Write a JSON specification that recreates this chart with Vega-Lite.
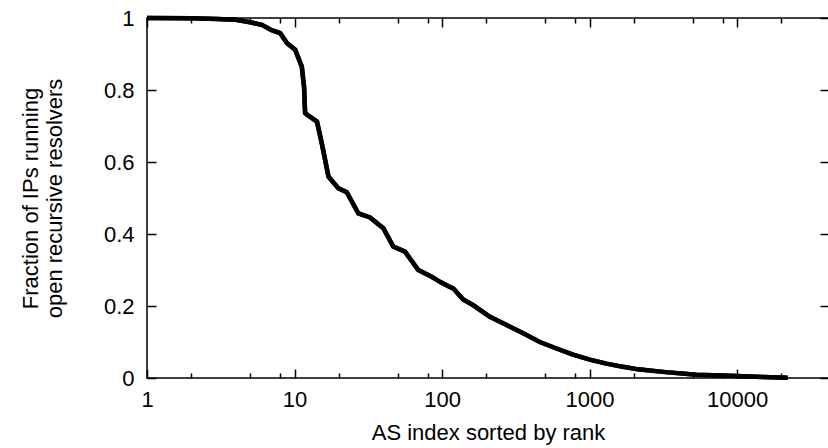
{
  "$schema": "https://vega.github.io/schema/vega-lite/v6.json",
  "autosize": {"type": "none"},
  "padding": {"left": 147, "top": 18, "right": 0, "bottom": 70},
  "width": 682,
  "height": 360,
  "background": "white",
  "config": {
    "view": {"stroke": "black", "strokeWidth": 1.5},
    "font": "Liberation Sans",
    "axis": {
      "grid": false,
      "domain": false,
      "tickColor": "black",
      "tickWidth": 1.5,
      "labelColor": "black",
      "labelFont": "Liberation Sans",
      "labelFontSize": 22,
      "titleFont": "Liberation Sans",
      "titleFontSize": 22,
      "titleFontWeight": "normal",
      "titleColor": "black",
      "labelOverlap": false,
      "labelFlush": false
    }
  },
  "data": {
    "values": [
      {"rank": 1, "frac": 1.0},
      {"rank": 2, "frac": 0.999},
      {"rank": 3, "frac": 0.997},
      {"rank": 4, "frac": 0.995},
      {"rank": 5, "frac": 0.988},
      {"rank": 6, "frac": 0.981},
      {"rank": 7, "frac": 0.966},
      {"rank": 8, "frac": 0.958},
      {"rank": 8.9, "frac": 0.93},
      {"rank": 10.1, "frac": 0.912},
      {"rank": 11.2, "frac": 0.865},
      {"rank": 11.6, "frac": 0.81},
      {"rank": 11.8, "frac": 0.736},
      {"rank": 12.5, "frac": 0.728},
      {"rank": 14.2, "frac": 0.712},
      {"rank": 15.3, "frac": 0.652},
      {"rank": 17.0, "frac": 0.559},
      {"rank": 19.8, "frac": 0.527},
      {"rank": 22.6, "frac": 0.516},
      {"rank": 27.1, "frac": 0.457},
      {"rank": 32.5, "frac": 0.446},
      {"rank": 40.0, "frac": 0.416},
      {"rank": 46.7, "frac": 0.365},
      {"rank": 56.1, "frac": 0.351},
      {"rank": 69.0, "frac": 0.3},
      {"rank": 85.1, "frac": 0.281},
      {"rank": 96.8, "frac": 0.267},
      {"rank": 113, "frac": 0.253},
      {"rank": 119, "frac": 0.249},
      {"rank": 139, "frac": 0.218},
      {"rank": 163, "frac": 0.202},
      {"rank": 211, "frac": 0.17},
      {"rank": 274, "frac": 0.147},
      {"rank": 355, "frac": 0.124},
      {"rank": 460, "frac": 0.1},
      {"rank": 597, "frac": 0.082},
      {"rank": 773, "frac": 0.065},
      {"rank": 1003, "frac": 0.051},
      {"rank": 1301, "frac": 0.04},
      {"rank": 1686, "frac": 0.031},
      {"rank": 2130, "frac": 0.024},
      {"rank": 3147, "frac": 0.017},
      {"rank": 5296, "frac": 0.009},
      {"rank": 8894, "frac": 0.006},
      {"rank": 14960, "frac": 0.003},
      {"rank": 22000, "frac": 0.001}
    ]
  },
  "layer": [
    {
      "mark": {"type": "line", "color": "black", "strokeWidth": 4.5},
      "encoding": {
        "x": {
          "field": "rank", "type": "quantitative",
          "scale": {"type": "log", "domain": [1, 42000], "nice": false},
          "axis": {
            "orient": "bottom",
            "title": "AS index sorted by rank",
            "values": [1, 2, 5, 8, 10, 20, 50, 80, 100, 200, 500, 800, 1000, 2000, 5000, 8000, 10000, 20000],
            "labelExpr": "indexof([1,10,100,1000,10000], datum.value) >= 0 ? format(datum.value, 'd') : ''",
            "tickSize": {"condition": {"test": "indexof([1,10,100,1000,10000], datum.value) >= 0", "value": -9}, "value": -5},
            "labelPadding": 20,
            "titlePadding": 8
          }
        },
        "y": {
          "field": "frac", "type": "quantitative",
          "scale": {"domain": [0, 1], "nice": false},
          "axis": {
            "orient": "left",
            "title": ["Fraction of IPs running", "open recursive resolvers"],
            "titleLineHeight": 24,
            "values": [0, 0.2, 0.4, 0.6, 0.8, 1],
            "format": "~g",
            "tickSize": -9,
            "labelPadding": 22,
            "titlePadding": 37
          }
        }
      }
    },
    {
      "mark": {"type": "line", "color": "black", "strokeWidth": 4.5},
      "encoding": {
        "x": {
          "field": "rank", "type": "quantitative",
          "axis": {
            "orient": "top",
            "title": null,
            "labels": false,
            "values": [1, 2, 5, 8, 10, 20, 50, 80, 100, 200, 500, 800, 1000, 2000, 5000, 8000, 10000, 20000],
            "tickSize": {"condition": {"test": "indexof([1,10,100,1000,10000], datum.value) >= 0", "value": -9}, "value": -5}
          }
        },
        "y": {
          "field": "frac", "type": "quantitative",
          "axis": {
            "orient": "right",
            "title": null,
            "labels": false,
            "values": [0, 0.2, 0.4, 0.6, 0.8, 1],
            "tickSize": -9
          }
        }
      }
    }
  ],
  "resolve": {"axis": {"x": "independent", "y": "independent"}}
}
